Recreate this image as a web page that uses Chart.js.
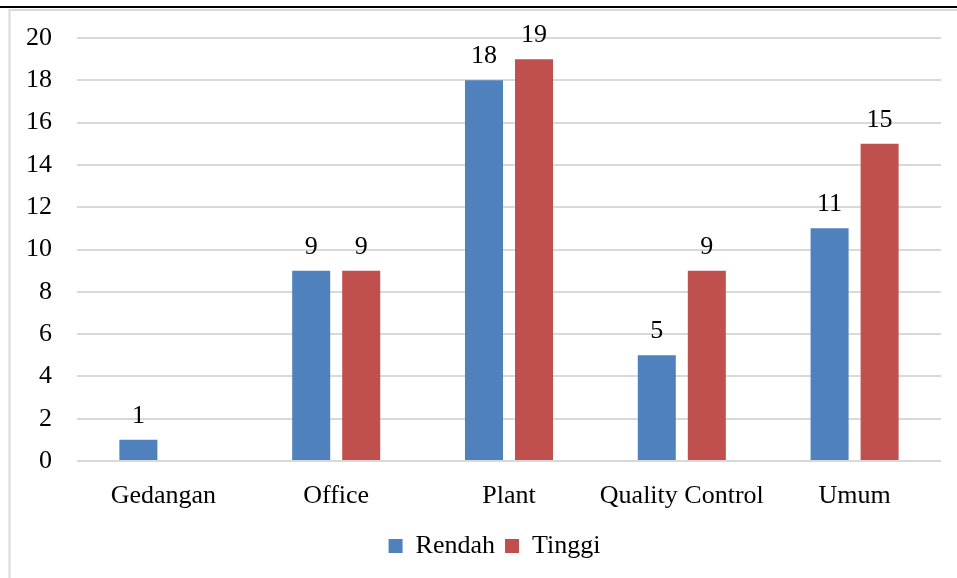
<!DOCTYPE html>
<html>
<head>
<meta charset="utf-8">
<script src="https://cdn.jsdelivr.net/npm/chart.js@4.4.1/dist/chart.umd.min.js"></script>
<style>
    html, body { margin: 0; padding: 0; background: #fff; }
    #wrap { width: 957px; height: 578px; position: relative; }
</style>
</head>
<body>
<div id="wrap"><canvas id="chart" width="957" height="578"></canvas></div>
<script>
// Chart data
const categories = ['Gedangan', 'Office', 'Plant', 'Quality Control', 'Umum'];
const rendahValues = [1, 9, 18, 5, 11];
const tinggiValues = [null, 9, 19, 9, 15];
const yTicks = [0, 2, 4, 6, 8, 10, 12, 14, 16, 18, 20];

const FONT = '"Liberation Serif", "Times New Roman", serif';
const FONT_SIZE = 26;

// Frame lines around the chart (page border look)
const framePlugin = {
    id: 'frame',
    afterLayout: function(chart) {
        // legend sits a bit right of the canvas centre in the original
        if (chart.legend) {
            chart.legend.left += 24;
            chart.legend.right += 24;
        }
    },
    beforeDraw: function(chart) {
        const ctx = chart.ctx;
        ctx.save();
        ctx.strokeStyle = '#d9d9d9';
        ctx.lineWidth = 2;
        ctx.beginPath();
        ctx.moveTo(9, 10);
        ctx.lineTo(957, 10);
        ctx.moveTo(9.5, 9);
        ctx.lineTo(9.5, 578);
        ctx.stroke();
        ctx.strokeStyle = '#000';
        ctx.lineWidth = 2;
        ctx.beginPath();
        ctx.moveTo(0, 7);
        ctx.lineTo(957, 7);
        ctx.stroke();
        ctx.restore();
    }
};

// Value labels above bars
const valueLabels = {
    id: 'valueLabels',
    afterDatasetsDraw: function(chart) {
        const ctx = chart.ctx;
        ctx.save();
        ctx.font = FONT_SIZE + 'px ' + FONT;
        ctx.fillStyle = '#000';
        ctx.textAlign = 'center';
        ctx.textBaseline = 'alphabetic';
        chart.data.datasets.forEach(function(ds, i) {
            const meta = chart.getDatasetMeta(i);
            meta.data.forEach(function(bar, j) {
                const v = ds.data[j];
                if (v === null || v === undefined) return;
                ctx.fillText(String(v), bar.x, bar.y - 17);
            });
        });
        ctx.restore();
    }
};

new Chart(document.getElementById('chart'), {
    type: 'bar',
    data: {
        labels: categories,
        datasets: [
            {
                label: 'Rendah',
                data: rendahValues,
                backgroundColor: '#4F81BD',
                categoryPercentage: 0.579,
                barPercentage: 0.76
            },
            {
                label: 'Tinggi',
                data: tinggiValues,
                backgroundColor: '#C0504D',
                categoryPercentage: 0.579,
                barPercentage: 0.76
            }
        ]
    },
    options: {
        responsive: false,
        animation: false,
        layout: {
            padding: { left: 0, right: 16, top: 38, bottom: 9 }
        },
        scales: {
            x: {
                grid: { display: false },
                border: { display: false },
                afterFit: function(axis) {
                    axis.height = 62;
                },
                ticks: {
                    color: '#000',
                    font: { family: FONT, size: FONT_SIZE },
                    padding: 12,
                    maxRotation: 0
                }
            },
            y: {
                min: 0,
                max: 20,
                afterBuildTicks: function(axis) {
                    axis.ticks = yTicks.map(function(v) { return { value: v }; });
                },
                afterFit: function(axis) {
                    axis.width = 77;
                    axis.paddingTop = 0;
                    axis.paddingBottom = 0;
                },
                grid: { color: '#d9d9d9', lineWidth: 2, drawTicks: false },
                border: { display: false },
                ticks: {
                    color: '#000',
                    font: { family: FONT, size: FONT_SIZE },
                    padding: 25
                }
            }
        },
        plugins: {
            legend: {
                position: 'bottom',
                labels: {
                    color: '#000',
                    font: { family: FONT, size: FONT_SIZE },
                    boxWidth: 14,
                    boxHeight: 14,
                    padding: 10
                }
            },
            tooltip: { enabled: false }
        }
    },
    plugins: [framePlugin, valueLabels]
});
</script>
</body>
</html>
